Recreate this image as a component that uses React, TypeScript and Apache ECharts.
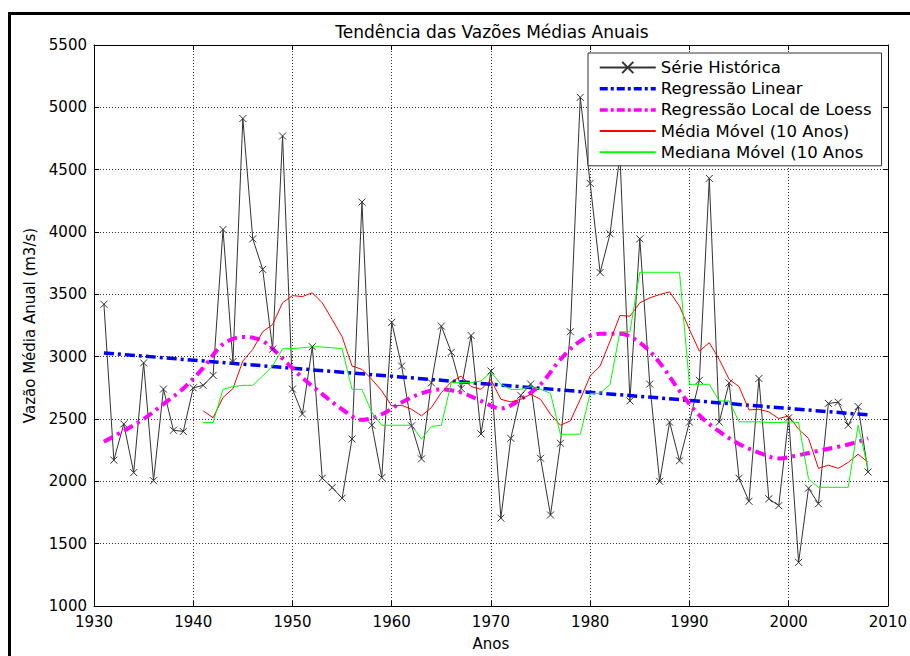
import React, { useEffect, useRef } from "react";
import * as echarts from "echarts";

// Annual mean flow series (m3/s), one value per year starting at firstYear
const firstYear = 1931;
const historicalFlow = [
  3420, 2170, 2460, 2070, 2950, 2005, 2740, 2410, 2400, 2750,
  2770, 2850, 4020, 2960, 4910, 3945, 3700, 3060, 4770, 2740,
  2540, 3080, 2025, 1950, 1865, 2340, 4240, 2450, 2030, 3275,
  2925, 2445, 2180, 2790, 3245, 3035, 2745, 3170, 2380, 2885,
  1705, 2345, 2690, 2780, 2185, 1730, 2305, 3200, 5080, 4390,
  3675, 3985, 4620, 2645, 3945, 2780, 2000, 2475, 2165, 2475,
  2810, 4430, 2475, 2790, 2025, 1840, 2825, 1860, 1805, 2510,
  1350, 1945, 1820, 2625, 2635, 2450, 2600, 2075,
];

// 10-year moving statistics, starting at windowStartYear
const windowStartYear = 1941;
const movingAverage = [
  2565, 2510, 2672, 2744, 2965, 3058, 3200, 3258, 3432, 3490,
  3482, 3512, 3432, 3298, 3160, 2925, 2898, 2818, 2725, 2605,
  2610, 2578, 2525, 2592, 2712, 2797, 2845, 2760, 2738, 2815,
  2658, 2637, 2658, 2698, 2658, 2538, 2450, 2485, 2658, 2845,
  2925, 3125, 3330, 3325, 3432, 3472, 3498, 3520, 3405, 3218,
  3045, 3112, 2978, 2818, 2760, 2573, 2578, 2557, 2504, 2525,
  2418, 2344, 2104, 2130, 2104, 2152, 2218, 2152,
];
const movingMedian = [
  2472, 2472, 2738, 2760, 2770, 2770, 2845, 2925, 3064, 3064,
  3072, 3080, 3077, 3072, 3064, 2738, 2738, 2552, 2450, 2450,
  2450, 2450, 2338, 2440, 2450, 2792, 2792, 2792, 2805, 2877,
  2778, 2738, 2738, 2760, 2738, 2706, 2378, 2378, 2378, 2706,
  2706, 2778, 3200, 3200, 3677, 3677, 3677, 3677, 3677, 2778,
  2778, 2778, 2645, 2645, 2477, 2477, 2477, 2472, 2472, 2477,
  2472, 2018, 1952, 1952, 1952, 1952, 2450, 2098,
];

// Loess curve samples
const loessYears = [
  1931, 1933, 1935, 1937, 1939, 1941, 1943, 1945, 1947, 1949,
  1951, 1953, 1955, 1957, 1959, 1961, 1963, 1965, 1967, 1969,
  1971, 1973, 1975, 1977, 1979, 1981, 1983, 1985, 1987, 1989,
  1991, 1993, 1995, 1997, 1999, 2001, 2003, 2005, 2007, 2008,
];
const loessFlow = [
  2317, 2405, 2500, 2620, 2745, 2910, 3100, 3158, 3125, 2985,
  2830, 2700, 2578, 2493, 2538, 2632, 2706, 2738, 2712, 2645,
  2584, 2658, 2778, 2978, 3125, 3184, 3184, 3112, 2952, 2725,
  2530, 2400, 2300, 2230, 2184, 2210, 2245, 2277, 2317, 2344,
];

// Linear trend end points
const regressionYears = [1931, 2008];
const regressionFlow = [3030, 2533];

// Axis ranges
const yearAxis = { min: 1930, max: 2010, step: 10 };
const flowAxis = { min: 1000, max: 5500, step: 500 };

const seriesNames = [
  "Série Histórica",
  "Regressão Linear",
  "Regressão Local de Loess",
  "Média Móvel (10 Anos)",
  "Mediana Móvel (10 Anos",
];

const FONT = "DejaVu Sans";
const CROSS = "path://M0,0L10,10M10,0L0,10";

const byYear = (start: number, values: number[]) =>
  values.map((v, i) => [start + i, v]);
const pairs = (xs: number[], ys: number[]) => xs.map((x, i) => [x, ys[i]]);

export default function App() {
  const ref = useRef<HTMLDivElement>(null);

  useEffect(() => {
    if (!ref.current) return;
    const chart = echarts.init(ref.current, null, { renderer: "svg" });

    const text = { fontFamily: FONT, fontSize: 15, color: "#000" };
    const axisLine = { show: true, onZero: false, lineStyle: { color: "#000", width: 1 } };
    const tick = { show: true, inside: true, length: 5, lineStyle: { color: "#000" } };
    const grid = { show: true, lineStyle: { color: "#333", width: 1, type: [1, 2] } };
    const plain = (v: number) => String(v);

    const regressionLine = { color: "#0000ff", width: 3.5, type: [10, 4, 3, 4] };
    const loessLine = { color: "#ff00ff", width: 4, type: [10, 5, 3, 5] };

    // legend entries: only the historical series shows its marker
    const legendData = [
      { name: seriesNames[0] },
      { name: seriesNames[1], itemStyle: { opacity: 0 }, lineStyle: { width: 3.5, type: [8, 3, 3, 3] } },
      { name: seriesNames[2], itemStyle: { opacity: 0 }, lineStyle: { width: 3.5, type: [8, 3, 3, 3] } },
      { name: seriesNames[3], itemStyle: { opacity: 0 } },
      { name: seriesNames[4], itemStyle: { opacity: 0 } },
    ];

    chart.setOption({
      animation: false,
      backgroundColor: "#fff",
      title: {
        text: "Tendência das Vazões Médias Anuais",
        left: 487,
        top: 18,
        textAlign: "center",
        textStyle: { ...text, fontSize: 17, fontWeight: "normal" },
      },
      grid: { left: 94, right: 18, top: 45, bottom: 49, containLabel: false },
      legend: {
        data: legendData,
        orient: "vertical",
        left: 588,
        top: 53,
        padding: [6, 10, 5, 10],
        itemWidth: 56,
        itemHeight: 14,
        itemGap: 4.2,
        backgroundColor: "#fff",
        borderColor: "#333",
        borderWidth: 1,
        textStyle: { ...text, fontSize: 16.5 },
      },
      xAxis: [
        {
          type: "value",
          position: "bottom",
          min: yearAxis.min,
          max: yearAxis.max,
          interval: yearAxis.step,
          axisLine,
          axisTick: tick,
          axisLabel: { ...text, margin: 8, formatter: plain },
          splitLine: grid,
          name: "Anos",
          nameLocation: "middle",
          nameGap: 30,
          nameTextStyle: text,
        },
        {
          type: "value",
          position: "top",
          min: yearAxis.min,
          max: yearAxis.max,
          interval: yearAxis.step,
          axisLine,
          axisTick: tick,
          axisLabel: { show: false },
          splitLine: { show: false },
        },
      ],
      yAxis: [
        {
          type: "value",
          position: "left",
          min: flowAxis.min,
          max: flowAxis.max,
          interval: flowAxis.step,
          axisLine,
          axisTick: tick,
          axisLabel: { ...text, margin: 7, formatter: plain },
          splitLine: grid,
          name: "Vazão Média Anual (m3/s)",
          nameLocation: "middle",
          nameGap: 49,
          nameTextStyle: text,
        },
        {
          type: "value",
          position: "right",
          min: flowAxis.min,
          max: flowAxis.max,
          interval: flowAxis.step,
          axisLine,
          axisTick: tick,
          axisLabel: { show: false },
          splitLine: { show: false },
        },
      ],
      graphic: [
        { type: "rect", shape: { x: 8, y: 12, width: 3, height: 660 }, style: { fill: "#000" } },
        { type: "rect", shape: { x: 8, y: 12, width: 910, height: 3 }, style: { fill: "#000" } },
      ],
      series: [
        {
          name: seriesNames[0],
          type: "line",
          data: byYear(firstYear, historicalFlow),
          symbol: CROSS,
          symbolSize: 7,
          showSymbol: true,
          lineStyle: { color: "#333", width: 1 },
          itemStyle: { color: "#333", borderColor: "#333", borderWidth: 1 },
        },
        {
          name: seriesNames[1],
          type: "line",
          data: pairs(regressionYears, regressionFlow),
          symbol: "none",
          lineStyle: regressionLine,
          itemStyle: { color: regressionLine.color },
        },
        {
          name: seriesNames[2],
          type: "line",
          data: pairs(loessYears, loessFlow),
          symbol: "none",
          smooth: 0.35,
          lineStyle: loessLine,
          itemStyle: { color: loessLine.color },
        },
        {
          name: seriesNames[3],
          type: "line",
          data: byYear(windowStartYear, movingAverage),
          symbol: "none",
          lineStyle: { color: "#ff0000", width: 1 },
          itemStyle: { color: "#ff0000" },
        },
        {
          name: seriesNames[4],
          type: "line",
          data: byYear(windowStartYear, movingMedian),
          symbol: "none",
          lineStyle: { color: "#00ff00", width: 1 },
          itemStyle: { color: "#00ff00" },
        },
      ],
    });

    return () => chart.dispose();
  }, []);

  return (
    <div
      ref={ref}
      style={{ position: "fixed", left: 0, top: 0, width: 910, height: 656, background: "#fff" }}
    />
  );
}
